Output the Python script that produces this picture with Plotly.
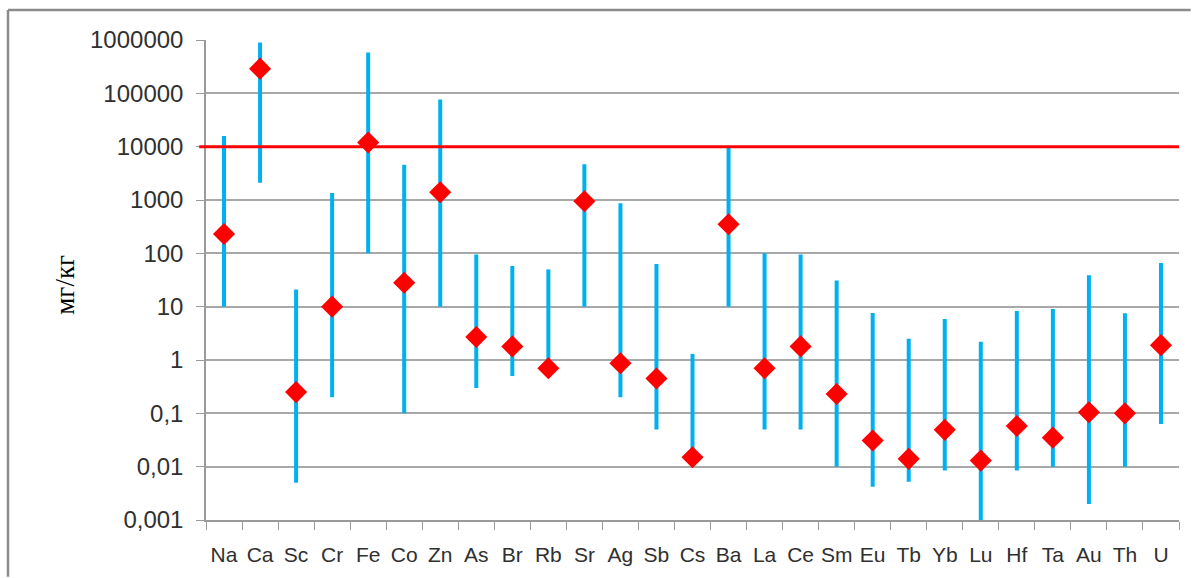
import plotly.graph_objects as go

elements = ["Na", "Ca", "Sc", "Cr", "Fe", "Co", "Zn", "As", "Br", "Rb", "Sr", "Ag", "Sb", "Cs",
            "Ba", "La", "Ce", "Sm", "Eu", "Tb", "Yb", "Lu", "Hf", "Ta", "Au", "Th", "U"]
range_min = [10, 2100, 0.005, 0.2, 100, 0.1, 10, 0.3, 0.5, 0.65, 10, 0.2, 0.05, 0.0145,
             10, 0.05, 0.05, 0.01, 0.0042, 0.0052, 0.0085, 0.001, 0.0085, 0.01, 0.002, 0.01, 0.063]
range_max = [15800, 900000, 21, 1350, 580000, 4600, 77000, 95, 58, 50, 4700, 870, 63, 1.3,
             10000, 100, 95, 31, 7.6, 2.5, 5.9, 2.2, 8.3, 9, 39, 7.5, 66]
values = [230, 290000, 0.25, 10, 12000, 28, 1400, 2.7, 1.8, 0.7, 950, 0.87, 0.45, 0.015,
          350, 0.7, 1.8, 0.23, 0.031, 0.014, 0.049, 0.013, 0.058, 0.035, 0.105, 0.1, 1.9]
threshold = 10000
tick_vals = [0.001, 0.01, 0.1, 1, 10, 100, 1000, 10000, 100000, 1000000]
tick_text = ["0,001", "0,01", "0,1", "1", "10", "100", "1000", "10000", "100000", "1000000"]

lx, ly = [], []
for e, lo, hi in zip(elements, range_min, range_max):
    lx += [e, e, None]
    ly += [lo, hi, None]

fig = go.Figure()
fig.add_trace(go.Scatter(x=lx, y=ly, mode="lines", line=dict(color="#00b0f0", width=4),
                         showlegend=False, hoverinfo="skip"))
fig.add_trace(go.Scatter(x=elements, y=values, mode="markers",
                         marker=dict(symbol="diamond", size=17, color="#ff0000"),
                         showlegend=False))

fig.add_shape(type="line", xref="paper", yref="y", x0=-0.007, x1=1, y0=threshold, y1=threshold,
              line=dict(color="#ff0000", width=3))
# outer frame (only top and left edges visible in the crop)
fig.add_shape(type="line", xref="paper", yref="paper", x0=-0.2035, x1=1.012, y0=1.0625, y1=1.0625,
              line=dict(color="#8c8c8c", width=2.5), layer="below")
fig.add_shape(type="line", xref="paper", yref="paper", x0=-0.2035, x1=-0.2035, y0=-0.118, y1=1.0625,
              line=dict(color="#8c8c8c", width=2.5), layer="below")

fig.add_annotation(text="мг/кг", xref="paper", yref="paper", x=-0.145, y=0.49, textangle=-90,
                   xanchor="center", yanchor="middle", showarrow=False,
                   font=dict(family="Liberation Serif", size=27, color="#000"))

fig.update_xaxes(type="category", categoryorder="array", categoryarray=elements,
                 range=[-0.5, len(elements) - 0.5], showgrid=False, showline=True,
                 linecolor="#9a9a9a", linewidth=1.5, ticks="outside", tickson="boundaries",
                 ticklen=8, tickcolor="#9a9a9a", ticklabelstandoff=15, tickangle=0,
                 automargin=False,
                 tickfont=dict(family="Liberation Sans", size=21, color="#303030"))
fig.update_yaxes(type="log", range=[-3, 6], tickvals=tick_vals, ticktext=tick_text,
                 showgrid=True, gridcolor="#a8a8a8", gridwidth=1.5, showline=True,
                 linecolor="#9a9a9a", linewidth=1.5, ticks="outside", ticklen=8,
                 tickcolor="#9a9a9a", zeroline=False, automargin=False, ticklabelstandoff=8,
                 tickfont=dict(family="Liberation Sans", size=24, color="#303030"))

fig.update_layout(width=1194, height=578, margin=dict(l=206, r=15, t=40, b=58),
                  plot_bgcolor="white", paper_bgcolor="white")

fig.write_html("out.html")
